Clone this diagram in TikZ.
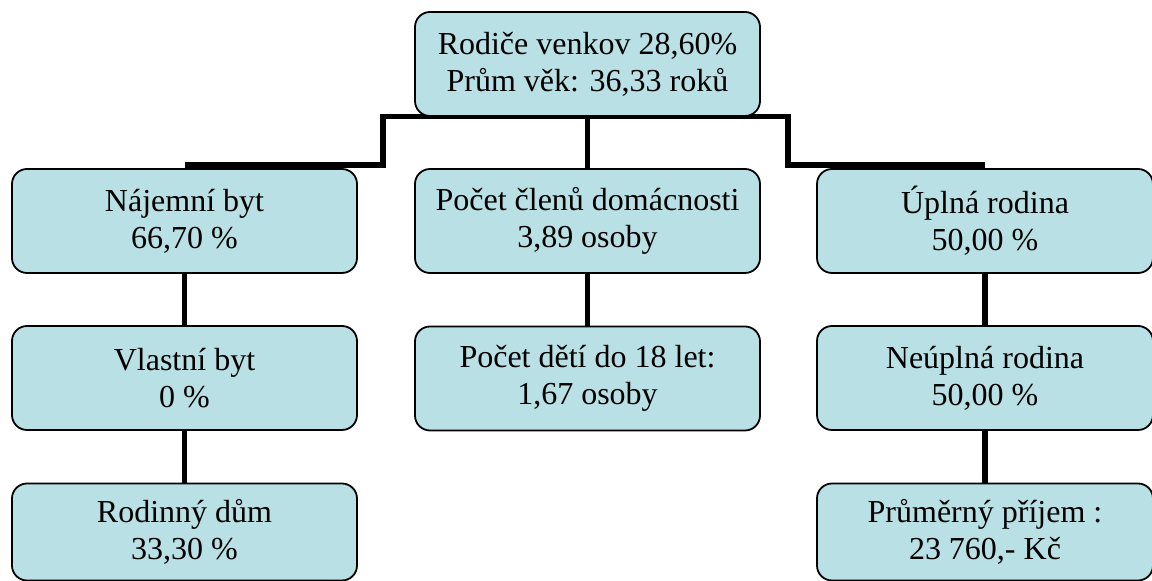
\documentclass[tikz,border=0pt]{standalone}
\usepackage{fontspec}
\setmainfont{Liberation Serif}
\usetikzlibrary{backgrounds}
\definecolor{boxfill}{RGB}{185,224,228}

\begin{document}
\begin{tikzpicture}[x=0.5pt,y=-0.5pt,
    every node/.style={font=\fontsize{16}{18.5}\selectfont},
    box/.style={draw, line width=0.9pt, rounded corners=7.5pt, fill=boxfill,
      align=center, inner sep=0pt, minimum width=172.5pt, minimum height=52pt},
    link/.style={line width=2.6pt}]
                \useasboundingbox (0,0) rectangle (1152,581);
                \node[box] (rodice) at (587.5,64) {Rodiče venkov 28,60\%\\Prům věk: 36,33 roků};
                \node[box] (najem) at (184.5,221) {Nájemní byt\\66,70 \%};
                \node[box] (clenove) at (587.5,221) {Počet členů domácnosti\\3,89 osoby};
                \node[box, minimum width=168pt] (uplna) at (985,221) {Úplná rodina\\50,00 \%};
                \node[box] (vlastni) at (184.5,378) {Vlastní byt\\0 \%};
                \node[box] (deti) at (587.5,378.5) {Počet dětí do 18 let:\\1,67 osoby};
                \node[box, minimum width=168pt] (neuplna) at (985,378) {Neúplná rodina\\50,00 \%};
                \node[box, minimum height=48.5pt] (dum) at (184.5,532) {Rodinný dům\\33,30 \%};
                \node[box, minimum width=168pt, minimum height=48.5pt] (prijem) at (985,532) {Průměrný příjem :\\23 760,- Kč};
                \coordinate (jl) at (383,0);
                \coordinate (jr) at (788,0);
                \begin{scope}[on background layer]
                \draw[link] (najem.north) ++(0,-3) -| (jl |- rodice.south) -- (jr |- rodice.south) |- ([yshift=1.5pt]uplna.north);
                \draw[link] (rodice.south) -- (clenove.north);
                \end{scope}
                \draw[link] (najem.south) -- (vlastni.north);
                \draw[link] (vlastni.south) -- (dum.north);
                \draw[link] (clenove.south) -- (deti.north);
                \draw[link] (uplna.south) -- (neuplna.north);
                \draw[link] (neuplna.south) -- (prijem.north);
            \end{tikzpicture}
\end{document}
